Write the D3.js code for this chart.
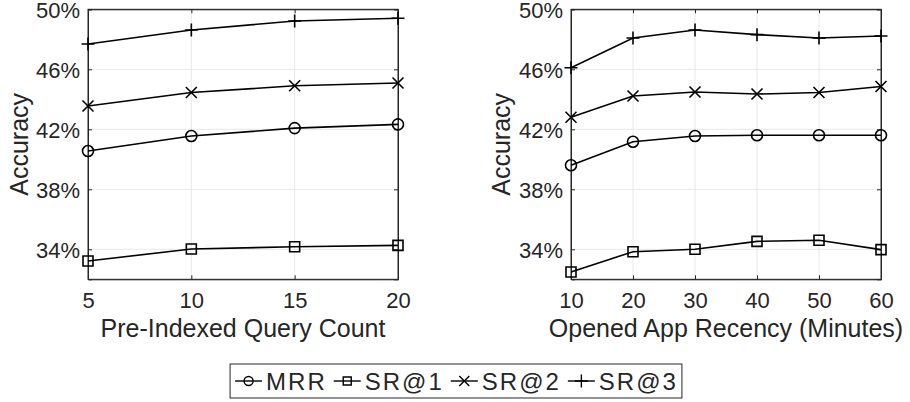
<!DOCTYPE html>
<html>
<head>
<meta charset="utf-8">
<script src="https://cdn.jsdelivr.net/npm/d3@7"></script>
<style>
  html, body { margin: 0; padding: 0; background: #fff; }
  svg { display: block; }
  text { font-family: "Liberation Sans", Arial, Helvetica, sans-serif; fill: #262626; }
</style>
</head>
<body>
<svg id="chart" width="910" height="402"></svg>
<script>
// ---- data ----
const seriesNames = ["MRR", "SR@1", "SR@2", "SR@3"];
const seriesMarkers = ["circle", "square", "cross", "plus"];

const leftX = [5, 10, 15, 20];
const leftMRR = [40.55, 41.55, 42.08, 42.33];
const leftSR1 = [33.22, 34.02, 34.17, 34.26];
const leftSR2 = [43.55, 44.45, 44.90, 45.09];
const leftSR3 = [47.69, 48.62, 49.22, 49.40];

const rightX = [10, 20, 30, 40, 50, 60];
const rightMRR = [39.60, 41.17, 41.55, 41.60, 41.60, 41.60];
const rightSR1 = [32.49, 33.84, 34.00, 34.53, 34.60, 33.98];
const rightSR2 = [42.80, 44.22, 44.49, 44.35, 44.45, 44.85];
const rightSR3 = [46.10, 48.09, 48.62, 48.31, 48.09, 48.22];

const yTicks = [34, 38, 42, 46, 50];
const yDomain = [32, 50];
const leftXTicks = [5, 10, 15, 20];
const rightXTicks = [10, 20, 30, 40, 50, 60];
const leftXLabel = "Pre-Indexed Query Count";
const rightXLabel = "Opened App Recency (Minutes)";
const yLabel = "Accuracy";

// ---- drawing ----
const svg = d3.select("#chart");
const AX = "#262626";
const GRID = "#e8e8e8";

function markerPath(type, s) {
  const h = s / 2;
  if (type === "circle") { const p = d3.path(); p.moveTo(h, 0); p.arc(0, 0, h, 0, 2 * Math.PI); return p.toString(); }
  if (type === "square") return `M${-h},${-h}H${h}V${h}H${-h}Z`;
  if (type === "cross") return `M${-h},${-h}L${h},${h}M${-h},${h}L${h},${-h}`;
  if (type === "plus") return `M${-h},0H${h}M0,${-h}V${h}`;
}
const markerSize = { circle: 11, square: 10, cross: 11, plus: 13 };

function panel(opts) {
  const { x0, x1, y0, y1, xs, xTicks, series, xLabel, yLabelX } = opts;
  const g = svg.append("g");
  const x = d3.scaleLinear().domain(d3.extent(xTicks)).range([x0, x1]);
  const y = d3.scaleLinear().domain(yDomain).range([y1, y0]);

  // grid
  g.append("g").selectAll("line").data(xTicks.slice(1, -1)).join("line")
    .attr("x1", d => x(d)).attr("x2", d => x(d)).attr("y1", y0).attr("y2", y1)
    .attr("stroke", GRID).attr("stroke-width", 1);
  g.append("g").selectAll("line").data(yTicks.filter(t => t < yDomain[1])).join("line")
    .attr("x1", x0).attr("x2", x1).attr("y1", d => y(d)).attr("y2", d => y(d))
    .attr("stroke", GRID).attr("stroke-width", 1);

  // axes (inward ticks on all four sides)
  const fmtY = d => d + "%";
  const axL = g.append("g").attr("transform", `translate(${x0},0)`)
    .call(d3.axisLeft(y).tickValues(yTicks).tickSize(-4).tickPadding(8).tickFormat(fmtY));
  const axR = g.append("g").attr("transform", `translate(${x1},0)`)
    .call(d3.axisRight(y).tickValues(yTicks).tickSize(-4).tickFormat(""));
  const axB = g.append("g").attr("transform", `translate(0,${y1})`)
    .call(d3.axisBottom(x).tickValues(xTicks).tickSize(-4).tickPadding(13).tickFormat(d3.format("d")));
  const axT = g.append("g").attr("transform", `translate(0,${y0})`)
    .call(d3.axisTop(x).tickValues(xTicks).tickSize(-4).tickFormat(""));
  [axL, axR, axB, axT].forEach(a => {
    a.select(".domain").attr("stroke", AX).attr("stroke-width", 1);
    a.selectAll(".tick line").attr("stroke", AX);
    a.selectAll("text").attr("font-size", 22).attr("fill", AX)
      .style("font-family", '"Liberation Sans", Arial, sans-serif');
  });
  axL.selectAll(".tick text").attr("dy", "0.36em");
  g.append("rect").attr("x", x0).attr("y", y0).attr("width", x1 - x0).attr("height", y1 - y0)
    .attr("fill", "none").attr("stroke", AX).attr("stroke-width", 1);

  // series
  const line = d3.line().x((d, i) => x(xs[i])).y(d => y(d));
  series.forEach((vals, k) => {
    g.append("path").attr("d", line(vals)).attr("fill", "none")
      .attr("stroke", "#000").attr("stroke-width", 1.6);
    const type = seriesMarkers[k];
    g.append("g").selectAll("path").data(vals).join("path")
      .attr("transform", (d, i) => `translate(${x(xs[i])},${y(d)})`)
      .attr("d", markerPath(type, markerSize[type]))
      .attr("fill", "none").attr("stroke", "#000").attr("stroke-width", 1.6);
  });

  // labels
  g.append("text").attr("x", (x0 + x1) / 2).attr("y", 337)
    .attr("text-anchor", "middle").attr("font-size", 25).text(xLabel);
  g.append("text").attr("transform", `translate(${yLabelX},${(y0 + y1) / 2}) rotate(-90)`)
    .attr("text-anchor", "middle").attr("font-size", 25).text(yLabel);
}

const Y0 = 9.3, Y1 = 279.3;
panel({ x0: 88, x1: 398, y0: Y0, y1: Y1, xs: leftX, xTicks: leftXTicks,
  series: [leftMRR, leftSR1, leftSR2, leftSR3], xLabel: leftXLabel, yLabelX: 28 });
panel({ x0: 571, x1: 881, y0: Y0, y1: Y1, xs: rightX, xTicks: rightXTicks,
  series: [rightMRR, rightSR1, rightSR2, rightSR3], xLabel: rightXLabel, yLabelX: 510 });

// ---- legend ----
const leg = svg.append("g");
const legBox = leg.append("rect").attr("fill", "#fff").attr("stroke", AX).attr("stroke-width", 1);
const items = leg.append("g");
let cx = 0;
const sampleLen = 27, padL = 5, gapST = 4, gapTS = 7;
const legY = 381;
const legMarkerSize = { circle: 9, square: 8, cross: 10, plus: 13 };
seriesNames.forEach((name, k) => {
  const type = seriesMarkers[k];
  const sx = cx + (k === 0 ? padL : gapTS);
  items.append("line").attr("x1", sx).attr("x2", sx + sampleLen).attr("y1", legY).attr("y2", legY)
    .attr("stroke", "#000").attr("stroke-width", 1.4);
  items.append("path").attr("transform", `translate(${sx + sampleLen / 2},${legY})`)
    .attr("d", markerPath(type, legMarkerSize[type]))
    .attr("fill", "none").attr("stroke", "#000").attr("stroke-width", 1.4);
  const t = items.append("text").attr("x", sx + sampleLen + gapST).attr("y", legY).attr("dy", "0.36em")
    .attr("font-size", 24).style("letter-spacing", "2px").text(name);
  cx = sx + sampleLen + gapST + t.node().getComputedTextLength();
});
const totalW = cx + 4;
const boxX = 456 - totalW / 2;
items.attr("transform", `translate(${boxX},0)`);
legBox.attr("x", boxX).attr("y", 364).attr("width", totalW).attr("height", 34);
</script>
</body>
</html>
